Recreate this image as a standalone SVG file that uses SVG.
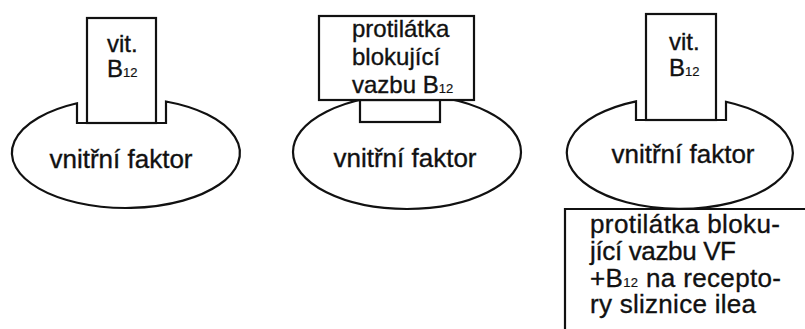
<svg xmlns="http://www.w3.org/2000/svg" width="805" height="329" viewBox="0 0 805 329">
<style>
.s{fill:#fff;stroke:#111;stroke-width:2.2;stroke-linejoin:miter}
.o{fill:none;stroke:#111;stroke-width:2.2}
text{font-family:"Liberation Sans",Arial,sans-serif;fill:#111;stroke:#111;stroke-width:0.35}
.t{font-size:26px}
.b{font-size:24px}
.sub{font-size:13px;stroke-width:0.2}
.m{text-anchor:middle}
</style>
<rect width="805" height="329" fill="#fff"/>
<g id="vf1">
<path class="s" d="M77 103.3 A114 55 0 1 0 166 101.5 L166 123 L77 123 Z"/>
<text class="t m" x="121" y="168">vnitřní faktor</text>
</g>
<g id="b12-1">
<rect class="s" x="87" y="18" width="69" height="105"/>
<text class="b" x="107" y="52">vit.</text>
<text class="b" x="107" y="77">B<tspan class="sub">12</tspan></text>
</g>
<g id="vf2">
<ellipse class="s" cx="407" cy="152" rx="114" ry="57"/>
<text class="t m" x="405" y="167">vnitřní faktor</text>
</g>
<g id="ab1">
<rect class="s" x="360" y="100" width="80" height="22"/>
<rect class="s" x="319" y="16" width="155" height="84"/>
<text class="b" x="352" y="37">protilátka</text>
<text class="b" x="352" y="65">blokující</text>
<text class="b" x="352" y="93">vazbu B<tspan class="sub">12</tspan></text>
</g>
<g id="vf3">
<path class="s" d="M636 101.3 A113 56 0 1 0 726 101.8 L726 120 L636 120 Z"/>
<text class="t m" x="683" y="163">vnitřní faktor</text>
</g>
<g id="b12-3">
<rect class="s" x="646" y="14" width="70" height="106"/>
<text class="b" x="669" y="50">vit.</text>
<text class="b" x="669" y="76">B<tspan class="sub">12</tspan></text>
</g>
<g id="ab2">
<path class="o" d="M565 329 L565 209 L805 209"/>
<text class="t" x="590" y="233" textLength="190">protilátka bloku-</text>
<text class="t" x="590" y="260" textLength="146">jící vazbu VF</text>
<text class="t" x="590" y="287" textLength="191">+B<tspan class="sub">12</tspan> na recepto-</text>
<text class="t" x="590" y="313" textLength="166">ry sliznice ilea</text>
</g>
<g id="connectors"></g>
</svg>
